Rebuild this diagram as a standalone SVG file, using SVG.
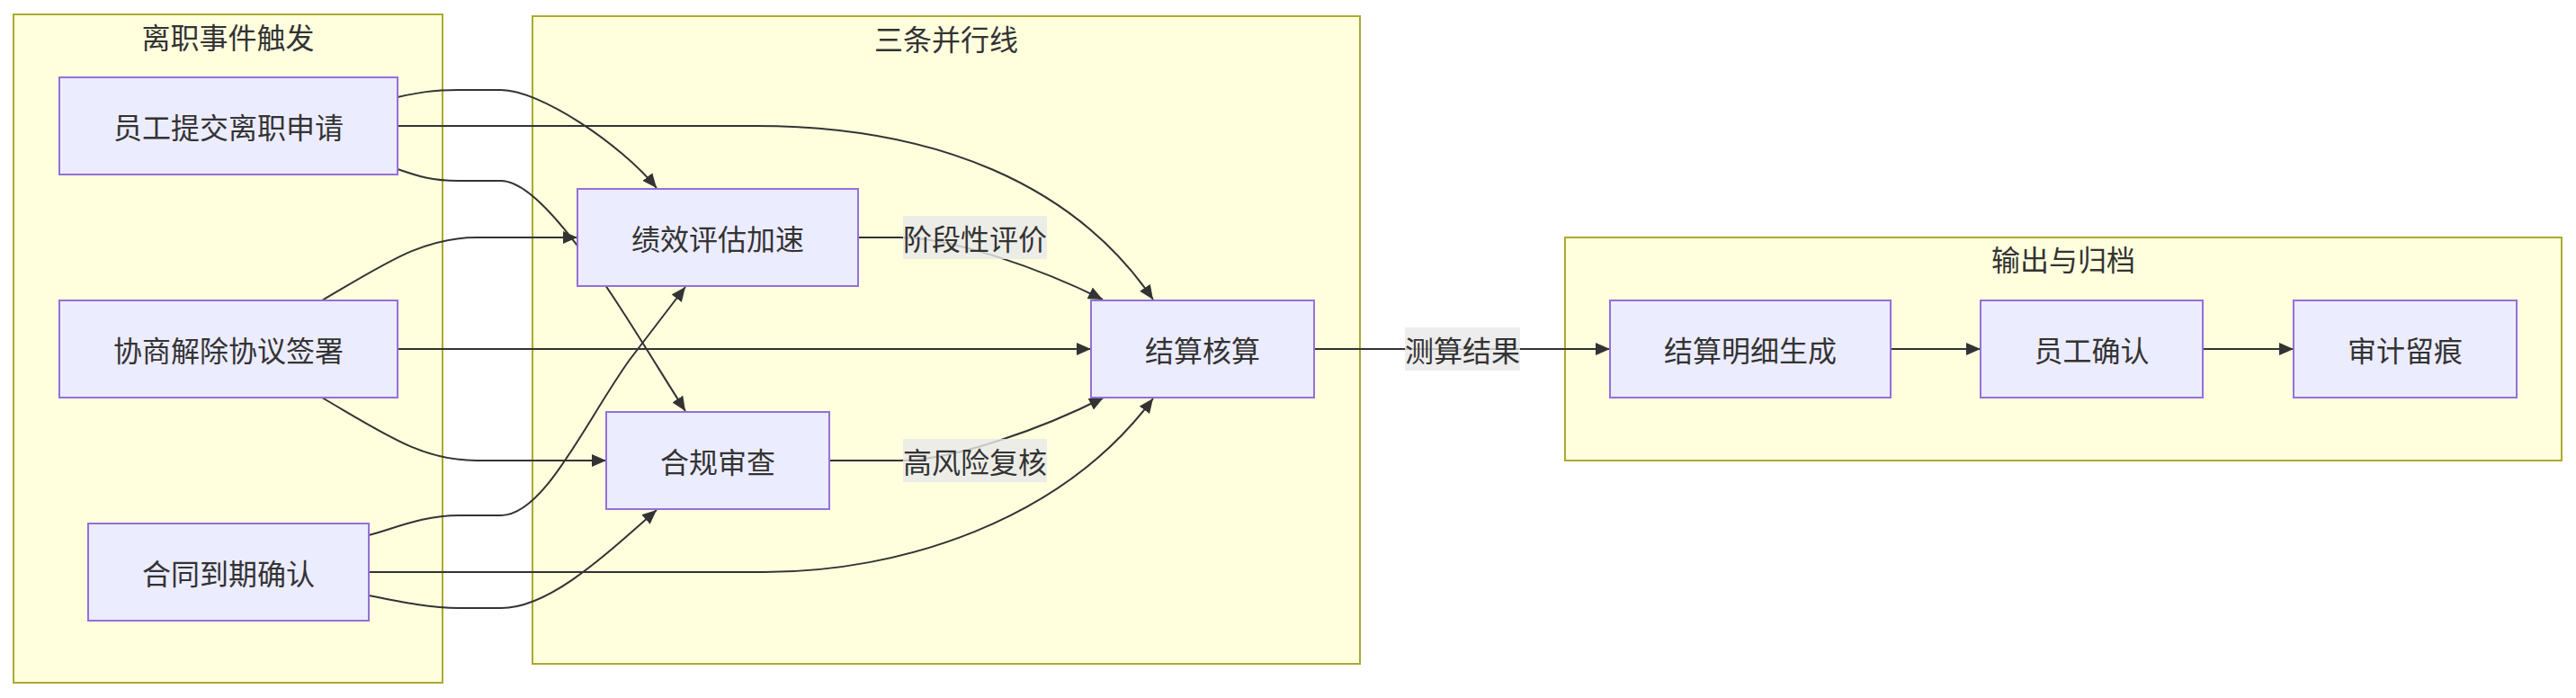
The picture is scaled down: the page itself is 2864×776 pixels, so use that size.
<svg xmlns="http://www.w3.org/2000/svg" width="2864" height="776" viewBox="0 0 2864 776">
<style>
.cluster{fill:#ffffde;stroke:#aaaa33;stroke-width:2}
.node rect{fill:#ececff;stroke:#9370db;stroke-width:2}
text{font-family:"Noto Sans CJK SC","Noto Sans",sans-serif;font-size:32px;fill:#333333;text-anchor:middle;dominant-baseline:central}
.edge{fill:none;stroke:#333333;stroke-width:2;marker-end:url(#arrow)}
.lbl rect{fill:#e8e8e8;opacity:0.8}
</style>
<defs>
<marker id="arrow" viewBox="0 0 10 10" refX="10" refY="5" markerUnits="userSpaceOnUse" markerWidth="16" markerHeight="14" preserveAspectRatio="none" orient="auto">
<path d="M0,0 L10,5 L0,10 z" fill="#333333"/>
</marker>
</defs>
<rect width="2864" height="776" fill="#ffffff"/>
<g id="cluster-trigger">
<rect class="cluster" x="15" y="16" width="477" height="743"/>
<text x="253.5" y="40">离职事件触发</text>
</g>
<g id="cluster-parallel">
<rect class="cluster" x="592" y="18" width="920" height="720"/>
<text x="1052" y="42">三条并行线</text>
</g>
<g id="cluster-output">
<rect class="cluster" x="1740" y="264" width="1108" height="248"/>
<text x="2294" y="287">输出与归档</text>
</g>
<g id="connectors">
<path class="edge" d="M442,108 C465,103 480,100 510,100 L557,100 C600,100 690,160 730,209"/>
<path class="edge" d="M442,140 L840,140 C1040,140 1195,205 1282,333"/>
<path class="edge" d="M442,188 C465,196 480,201 510,201 L557,201 C610,201 700,360 762,457"/>
<path class="edge" d="M358,334 C430,292 470,264 530,264 L642,264"/>
<path class="edge" d="M442,388 L1213,388"/>
<path class="edge" d="M358,442 C430,484 470,512 530,512 L674,512"/>
<path class="edge" d="M410,595 C440,587 470,573 510,573 L557,573 C605,573 650,470 700,400 L762,319"/>
<path class="edge" d="M410,636 L850,636 C1000,636 1180,580 1282,443"/>
<path class="edge" d="M410,662 C450,670 480,676 510,676 L557,676 C610,676 670,620 730,567"/>
<path class="edge" d="M954,264 L1000,264 C1060,264 1160,300 1226,333"/>
<path class="edge" d="M922,512 L1000,512 C1060,512 1160,476 1227,442"/>
<path class="edge" d="M1461,388 L1790,388"/>
<path class="edge" d="M2102,388 L2202,388"/>
<path class="edge" d="M2449,388 L2550,388"/>
<g class="lbl"><rect x="1004" y="240" width="160" height="48"/><text x="1084" y="264">阶段性评价</text></g>
<g class="lbl"><rect x="1004" y="488" width="160" height="48"/><text x="1084" y="512">高风险复核</text></g>
<g class="lbl"><rect x="1562" y="364" width="128" height="48"/><text x="1626" y="388">测算结果</text></g>
</g>
<g id="node-submit" class="node"><rect x="66" y="86" width="376" height="108"/><text x="254" y="140">员工提交离职申请</text></g>
<g id="node-agreement" class="node"><rect x="66" y="334" width="376" height="108"/><text x="254" y="388">协商解除协议签署</text></g>
<g id="node-contract" class="node"><rect x="98" y="582" width="312" height="108"/><text x="254" y="636">合同到期确认</text></g>
<g id="node-perf" class="node"><rect x="642" y="210" width="312" height="108"/><text x="798" y="264">绩效评估加速</text></g>
<g id="node-compliance" class="node"><rect x="674" y="458" width="248" height="108"/><text x="798" y="512">合规审查</text></g>
<g id="node-settle" class="node"><rect x="1213" y="334" width="248" height="108"/><text x="1337" y="388">结算核算</text></g>
<g id="node-detail" class="node"><rect x="1790" y="334" width="312" height="108"/><text x="1946" y="388">结算明细生成</text></g>
<g id="node-confirm" class="node"><rect x="2202" y="334" width="247" height="108"/><text x="2325.5" y="388">员工确认</text></g>
<g id="node-audit" class="node"><rect x="2550" y="334" width="248" height="108"/><text x="2674" y="388">审计留痕</text></g>
</svg>
